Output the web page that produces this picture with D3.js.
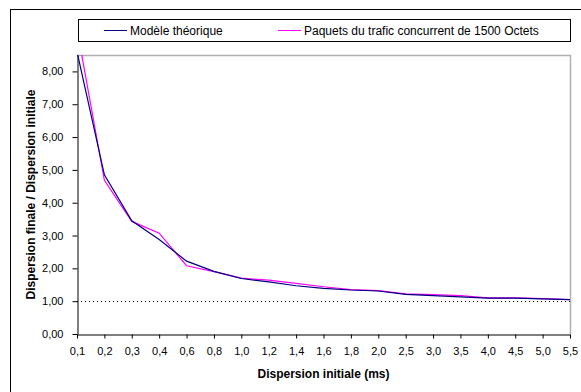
<!DOCTYPE html>
<html>
<head>
<meta charset="utf-8">
<script src="https://cdn.jsdelivr.net/npm/d3@7"></script>
<style>
  body { margin: 0; background: #fff; }
  svg { display: block; font-family: "Liberation Sans", Arial, sans-serif; }
</style>
</head>
<body>
<div id="chart"></div>
<script>
// categories on the x axis (initial dispersion, ms)
var categories = ["0,1", "0,2", "0,3", "0,4", "0,6", "0,8", "1,0", "1,2", "1,4", "1,6",
                  "1,8", "2,0", "2,5", "3,0", "3,5", "4,0", "4,5", "5,0", "5,5"];

// Modèle théorique
var modelValues = [8.6, 4.85, 3.45, 2.88, 2.22, 1.91, 1.69, 1.59, 1.47, 1.39,
                   1.34, 1.31, 1.21, 1.17, 1.13, 1.09, 1.09, 1.07, 1.05];

// Paquets du trafic concurrent de 1500 Octets
var trafficValues = [9.3, 4.68, 3.43, 3.07, 2.08, 1.9, 1.7, 1.64, 1.54, 1.44,
                     1.35, 1.32, 1.22, 1.2, 1.17, 1.1, 1.1, 1.08, 1.05];

var yTicks = [0, 1, 2, 3, 4, 5, 6, 7, 8];
var legendNames = ["Modèle théorique", "Paquets du trafic concurrent de 1500 Octets"];
var colors = ["#000080", "#ff00ff"];

var w = 581, h = 392;
var plotLeft = 77, plotRight = 570, plotTop = 55, plotBottom = 334;

var svg = d3.select("#chart")
    .append("svg")
    .attr("width", w)
    .attr("height", h);

// outer chart border
svg.append("rect")
    .attr("x", 10.5).attr("y", 9.5)
    .attr("width", 600).attr("height", 420)
    .attr("fill", "none")
    .attr("stroke", "#000");

var x = d3.scalePoint()
    .domain(categories)
    .range([plotLeft, plotRight]);

var y = d3.scaleLinear()
    .domain([0, 8.5])
    .range([plotBottom, plotTop]);

// plot area border (grey top / right)
svg.append("path")
    .attr("d", `M${plotLeft},${plotTop + 0.5}H${plotRight + 0.5}V${plotBottom}`)
    .attr("fill", "none")
    .attr("stroke", "#b0b0b0")
    .attr("stroke-width", 1.5);

// reference line at 1
svg.append("line")
    .attr("x1", plotLeft).attr("x2", plotRight)
    .attr("y1", Math.round(y(1)) + 0.5).attr("y2", Math.round(y(1)) + 0.5)
    .attr("stroke", "#000")
    .attr("stroke-dasharray", "1,3");

// y axis
var yAxis = svg.append("g")
    .attr("transform", `translate(${plotLeft + 0.5},0)`)
    .call(d3.axisLeft(y).tickValues(yTicks).tickSize(5).tickSizeOuter(0)
        .tickFormat((d) => d3.format(".2f")(d).replace(".", ",")));

// x axis
var xAxis = svg.append("g")
    .attr("transform", `translate(0,${plotBottom + 0.5})`)
    .call(d3.axisBottom(x).tickSize(4).tickSizeOuter(0).tickPadding(9));

[yAxis, xAxis].forEach(function (g) {
    g.select(".domain").attr("stroke", "#000");
    g.selectAll(".tick line").attr("stroke", "#000");
    g.selectAll("text")
        .attr("font-family", "Liberation Sans, Arial, sans-serif")
        .attr("font-size", "11px")
        .attr("fill", "#000");
});
yAxis.selectAll("text").attr("x", -14);

// clip lines to the plot area
svg.append("clipPath")
    .attr("id", "plotClip")
    .append("rect")
    .attr("x", plotLeft).attr("y", plotTop)
    .attr("width", plotRight - plotLeft + 1).attr("height", plotBottom - plotTop);

var line = d3.line()
    .x((d, i) => x(categories[i]))
    .y((d) => y(d));

var series = [modelValues, trafficValues];

// magenta drawn first, navy on top
[1, 0].forEach(function (k) {
    svg.append("path")
        .datum(series[k])
        .attr("clip-path", "url(#plotClip)")
        .attr("d", line)
        .attr("fill", "none")
        .attr("stroke", colors[k])
        .attr("stroke-width", 1.2);
});

// legend
svg.append("rect")
    .attr("x", 78.5).attr("y", 19.5)
    .attr("width", 492).attr("height", 22)
    .attr("fill", "#fff")
    .attr("stroke", "#000");

var legendX = [104, 278];
legendNames.forEach(function (name, i) {
    svg.append("line")
        .attr("x1", legendX[i]).attr("x2", legendX[i] + 23)
        .attr("y1", 30.5).attr("y2", 30.5)
        .attr("stroke", colors[i]);
    svg.append("text")
        .attr("x", legendX[i] + 26)
        .attr("y", 35)
        .attr("font-size", "12px")
        .text(name);
});

// axis titles
svg.append("text")
    .attr("x", (plotLeft + plotRight) / 2)
    .attr("y", 378)
    .attr("text-anchor", "middle")
    .attr("font-size", "12px")
    .attr("font-weight", "bold")
    .text("Dispersion initiale (ms)");

svg.append("text")
    .attr("transform", `translate(35,${(plotTop + plotBottom) / 2}) rotate(-90)`)
    .attr("text-anchor", "middle")
    .attr("font-size", "12px")
    .attr("font-weight", "bold")
    .text("Dispersion finale / Dispersion initiale");
</script>
</body>
</html>
